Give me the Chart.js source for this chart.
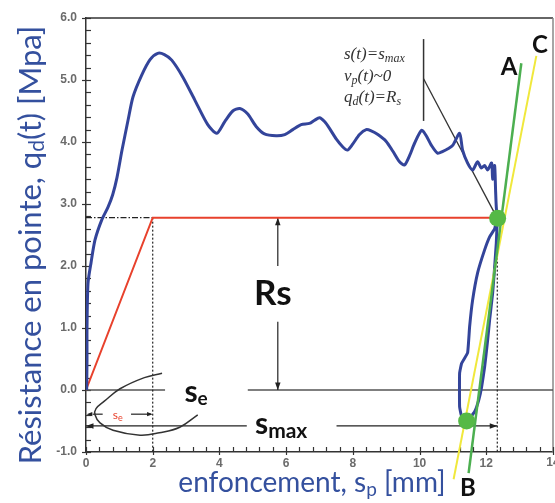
<!DOCTYPE html>
<html><head><meta charset="utf-8">
<script src="https://cdn.jsdelivr.net/npm/chart.js@4.4.0/dist/chart.umd.min.js"></script>
<style>html,body{margin:0;padding:0;background:#fff;}#wrap{width:555px;height:503px;}</style>
</head><body><div id="wrap"><canvas id="c" width="555" height="503"></canvas></div>
<script>
// ---- data ----
const xTickValues = [0, 2, 4, 6, 8, 10, 12, 14];
const yTickValues = [-1, 0, 1, 2, 3, 4, 5, 6];
// penetration curve q_d(s): loading branch
const qdLoadX = [0.02,0.03,0.03,0.06,0.15,0.27,0.47,0.66,0.8,0.93,1.08,1.26,1.41,1.67,1.92,2.15,2.35,2.57,2.9,3.26,3.65,3.92,4.16,4.4,4.61,4.85,5.1,5.35,5.7,5.96,6.2,6.45,6.7,6.85,7.0,7.15,7.3,7.5,7.7,7.84,8.0,8.2,8.4,8.55,8.75,9.0,9.2,9.4,9.55,9.7,9.85,10.06,10.2,10.35,10.54,10.7,10.85,11.0,11.2,11.29,11.44,11.59,11.74,11.85,11.95,12.04,12.16,12.19,12.25,12.28,12.3,12.33];
const qdLoadY = [0.0,0.5,1.0,1.72,2.05,2.42,2.74,2.95,3.15,3.43,3.87,4.35,4.73,5.08,5.33,5.43,5.41,5.32,5.05,4.68,4.28,4.14,4.33,4.5,4.54,4.45,4.25,4.13,4.1,4.12,4.2,4.28,4.3,4.35,4.39,4.33,4.22,4.05,3.92,3.87,3.97,4.12,4.2,4.18,4.12,4.01,3.85,3.68,3.63,3.78,3.98,4.19,4.1,3.95,3.82,3.85,3.89,3.95,4.14,3.87,3.66,3.55,3.68,3.58,3.62,3.55,3.66,3.4,3.62,3.2,2.95,2.78];
// unloading / reloading loop
const qdLoopX = [12.33,12.25,12.1,11.95,11.74,11.59,11.5,11.44,11.26,11.2,11.2,11.26,11.45,11.65,11.78,11.86,11.95,12.04,12.1,12.19,12.25,12.3,12.33];
const qdLoopY = [2.78,2.6,2.47,2.26,1.89,1.45,1.02,0.6,0.43,0.27,-0.27,-0.42,-0.48,-0.35,-0.15,0.05,0.37,0.8,1.13,1.56,1.98,2.37,2.75];
const modelX = [0, 2.0, 12.33];
const modelY = [0, 2.78, 2.78];
const lineAX = [11.47, 13.05];
const lineAY = [-1.34, 5.27];
const lineCX = [11.02, 13.5];
const lineCY = [-1.44, 5.39];
const dotX = [12.34, 11.41];
const dotY = [2.77, -0.5];
const loopX = [2.28, 1.75, 1.02, 0.55, 0.3, 0.27, 0.42, 0.81, 1.62, 2.2, 2.81, 3.35];
const loopY = [0.27, 0.2, 0.02, -0.18, -0.3, -0.4, -0.53, -0.65, -0.73, -0.69, -0.6, -0.4];
const Rs = 2.78, se = 2.0, smax = 12.33;

const pts = (xs, ys) => xs.map((x, i) => ({x: x, y: ys[i]}));

const BLUE = '#33449a', TITLE = '#34509e';
const TICKFONT = 'bold 12px "Liberation Sans"', TICKCOL = '#6b6b6b';

function drawRich(ctx, x, y, parts, align) {
  let w = 0;
  parts.forEach(p => { ctx.font = p.f; w += ctx.measureText(p.t).width; });
  let cx = align === 'center' ? x - w / 2 : (align === 'right' ? x - w : x);
  ctx.textAlign = 'left';
  parts.forEach(p => {
    ctx.font = p.f;
    if (p.c) ctx.fillStyle = p.c;
    ctx.fillText(p.t, cx, y + (p.dy || 0));
    cx += ctx.measureText(p.t).width;
  });
}
function arrowHead(ctx, x1, y1, x2, y2, size) {
  const a = Math.atan2(y2 - y1, x2 - x1);
  ctx.beginPath();
  ctx.moveTo(x2, y2);
  ctx.lineTo(x2 - size * Math.cos(a - 0.35), y2 - size * Math.sin(a - 0.35));
  ctx.lineTo(x2 - size * Math.cos(a + 0.35), y2 - size * Math.sin(a + 0.35));
  ctx.closePath();
  ctx.fill();
}
function seg(ctx, a, b, dash) {
  ctx.setLineDash(dash || []);
  ctx.beginPath(); ctx.moveTo(a[0], a[1]); ctx.lineTo(b[0], b[1]); ctx.stroke();
  ctx.setLineDash([]);
}

const annot = {
  id: 'annot',
  beforeDatasetsDraw(chart) {
    const ctx = chart.ctx, sx = chart.scales.x, sy = chart.scales.y;
    const P = (x, y) => [sx.getPixelForValue(x), sy.getPixelForValue(y)];
    const ca = chart.chartArea;
    ctx.save();
    ctx.lineWidth = 1.5;
    ctx.strokeStyle = '#333';
    seg(ctx, [ca.left, ca.top], [ca.right, ca.top]);
    ctx.strokeStyle = '#888';
    seg(ctx, [ca.right, ca.top], [ca.right, ca.bottom]);
    ctx.strokeStyle = '#333'; ctx.lineWidth = 1.2;
    for (let v = -1; v <= 6.001; v += 0.2) {
      const yy = Math.round(sy.getPixelForValue(v)) + 0.5;
      const major = Math.abs(v - Math.round(v)) < 0.01;
      seg(ctx, [ca.left - (major ? 4 : 0), yy], [ca.left + 5, yy]);
    }
    for (let v = 0; v <= 14.001; v += 0.4) {
      const xx = Math.round(sx.getPixelForValue(v)) + 0.5;
      const major = Math.abs(v / 2 - Math.round(v / 2)) < 0.01;
      seg(ctx, [xx, ca.bottom + (major ? 3 : 0)], [xx, ca.bottom - 5]);
    }
    // last x tick label (drawn here so it can run off the canvas edge as in the original)
    ctx.font = TICKFONT; ctx.fillStyle = TICKCOL; ctx.textAlign = 'center'; ctx.textBaseline = 'middle';
    ctx.fillText(String(xTickValues[xTickValues.length - 1]), sx.getPixelForValue(xTickValues[xTickValues.length - 1]), ca.bottom + 11);
    // zero line (gap for label)
    ctx.strokeStyle = '#555'; ctx.lineWidth = 1.5;
    seg(ctx, P(0, 0), P(2.37, 0));
    seg(ctx, P(4.85, 0), P(14, 0));
    // guides
    ctx.strokeStyle = '#222'; ctx.lineWidth = 1.2;
    seg(ctx, P(0, Rs), P(se, Rs), [6, 2, 1.5, 2]);
    seg(ctx, P(se, Rs), P(se, -1), [2, 2]);
    seg(ctx, P(smax, Rs), P(smax, -1), [2, 2]);
    // Rs double arrow
    ctx.strokeStyle = '#222'; ctx.fillStyle = '#222'; ctx.lineWidth = 1.2;
    const xr = 5.75;
    seg(ctx, P(xr, 2.0), P(xr, Rs));
    arrowHead(ctx, ...P(xr, 2.0), ...P(xr, Rs), 8);
    seg(ctx, P(xr, 1.1), P(xr, 0));
    arrowHead(ctx, ...P(xr, 1.1), ...P(xr, 0), 8);
    // s_max arrow
    const ym = -0.58;
    seg(ctx, P(4.82, ym), P(0, ym));
    arrowHead(ctx, ...P(1, ym), ...P(0, ym), 8);
    seg(ctx, P(7.51, ym), P(smax, ym));
    arrowHead(ctx, ...P(11, ym), ...P(smax, ym), 8);
    // s_e small arrow
    const ye = -0.39;
    seg(ctx, P(0.2, ye), P(0.5, ye));
    arrowHead(ctx, ...P(0.5, ye), ...P(0.02, ye), 6);
    seg(ctx, P(1.35, ye), P(1.95, ye));
    arrowHead(ctx, ...P(1.35, ye), ...P(2.0, ye), 6);
    // annotation bracket and leader
    ctx.strokeStyle = '#333'; ctx.lineWidth = 1.5;
    seg(ctx, P(10.12, 5.66), P(10.12, 4.34));
    ctx.lineWidth = 1.3;
    seg(ctx, P(10.12, 5.02), P(12.3, 2.8));
    ctx.restore();
  },
  afterDraw(chart) {
    const ctx = chart.ctx, sx = chart.scales.x, sy = chart.scales.y;
    const P = (x, y) => [sx.getPixelForValue(x), sy.getPixelForValue(y)];
    ctx.save();
    ctx.textBaseline = 'middle';
    // y title
    ctx.save();
    ctx.translate(31, 245);
    ctx.rotate(-Math.PI / 2);
    ctx.fillStyle = TITLE;
    drawRich(ctx, 0, 0, [
      {t: 'Résistance en pointe, q', f: '31px Lato'},
      {t: 'd', f: '21px Lato', dy: 6},
      {t: '(t) [Mpa]', f: '31px Lato'}
    ], 'center');
    ctx.restore();
    // x title
    ctx.fillStyle = TITLE;
    drawRich(ctx, 312, 483, [
      {t: 'enfoncement, s', f: '28px Lato'},
      {t: 'p', f: '19px Lato', dy: 7},
      {t: ' [mm]', f: '28px Lato'}
    ], 'center');
    // letters
    ctx.fillStyle = '#111';
    const bf = 'bold 24px Lato';
    drawRich(ctx, 468, 488, [{t: 'B', f: bf}], 'center');
    drawRich(ctx, 509, 67, [{t: 'A', f: bf}], 'center');
    drawRich(ctx, 540, 45, [{t: 'C', f: bf}], 'center');
    let p = P(5.6, 1.56);
    drawRich(ctx, p[0], p[1], [{t: 'Rs', f: 'bold 35px Lato'}], 'center');
    p = P(3.3, -0.03);
    drawRich(ctx, p[0], p[1], [{t: 's', f: 'bold 30px Lato'}, {t: 'e', f: 'bold 19px Lato', dy: 7}], 'center');
    p = P(5.85, -0.55);
    drawRich(ctx, p[0], p[1], [{t: 's', f: 'bold 30px Lato'}, {t: 'max', f: 'bold 21px Lato', dy: 7}], 'center');
    p = P(0.95, -0.41);
    drawRich(ctx, p[0], p[1], [{t: 's', f: '12px Lato', c: '#e8412c'}, {t: 'e', f: '9px Lato', dy: 3, c: '#e8412c'}], 'center');
    // formulae
    ctx.fillStyle = '#333';
    const ff = 'italic 17px "Liberation Serif"', fs = 'italic 12px "Liberation Serif"';
    drawRich(ctx, 344, 55, [{t: 's(t)=s', f: ff}, {t: 'max', f: fs, dy: 4}], 'left');
    drawRich(ctx, 344, 77, [{t: 'v', f: ff}, {t: 'p', f: fs, dy: 4}, {t: '(t)~0', f: ff}], 'left');
    drawRich(ctx, 344, 98, [{t: 'q', f: ff}, {t: 'd', f: fs, dy: 4}, {t: '(t)=R', f: ff}, {t: 's', f: fs, dy: 4}], 'left');
    ctx.restore();
  }
};

new Chart(document.getElementById('c'), {
  type: 'scatter',
  data: {
    datasets: [
      {data: pts(dotX, dotY), pointRadius: 8.5, pointBackgroundColor: '#55b946', pointBorderWidth: 0, showLine: false, clip: false},
      {data: pts(lineAX, lineAY), showLine: true, borderColor: '#4caf50', borderWidth: 2.5, pointRadius: 0, clip: false},
      {data: pts(lineCX, lineCY), showLine: true, borderColor: '#f0e83c', borderWidth: 2, pointRadius: 0, clip: false},
      {data: pts(qdLoadX, qdLoadY), showLine: true, borderColor: BLUE, borderWidth: 3, pointRadius: 0, tension: 0.25},
      {data: pts(qdLoopX, qdLoopY), showLine: true, borderColor: BLUE, borderWidth: 3, pointRadius: 0, tension: 0.1},
      {data: pts(modelX, modelY), showLine: true, borderColor: '#e8412c', borderWidth: 2, pointRadius: 0},
      {data: pts(loopX, loopY), showLine: true, borderColor: '#333', borderWidth: 1.5, pointRadius: 0, tension: 0.4}
    ]
  },
  options: {
    responsive: false, animation: false, devicePixelRatio: 1,
    layout: {autoPadding: false, padding: {top: 18, right: 2, left: 0, bottom: 0}},
    plugins: {legend: {display: false}, tooltip: {enabled: false}},
    scales: {
      x: {
        type: 'linear', min: 0, max: 14,
        afterBuildTicks: s => { s.ticks = xTickValues.map(v => ({value: v})); },
        afterFit: s => { s.height = 51; s.paddingLeft = 0; s.paddingRight = 0; },
        grid: {display: true, drawOnChartArea: false, drawTicks: true, tickLength: 4, tickColor: 'rgba(0,0,0,0)'},
        border: {display: true, color: '#333', width: 1.5},
        ticks: {autoSkip: false, maxRotation: 0, padding: 0, color: TICKCOL, font: {family: 'Liberation Sans', size: 12, weight: 'bold'},
                callback: v => (v === xTickValues[xTickValues.length - 1] ? '' : String(v))}
      },
      y: {
        type: 'linear', min: -1, max: 6,
        afterBuildTicks: s => { s.ticks = yTickValues.map(v => ({value: v})); },
        afterFit: s => { s.width = 86; },
        grid: {display: false, drawTicks: false},
        border: {display: true, color: '#333', width: 1.5},
        ticks: {autoSkip: false, padding: 9, color: TICKCOL, font: {family: 'Liberation Sans', size: 12, weight: 'bold'}, callback: v => Number(v).toFixed(1)}
      }
    }
  },
  plugins: [annot]
});
</script></body></html>
